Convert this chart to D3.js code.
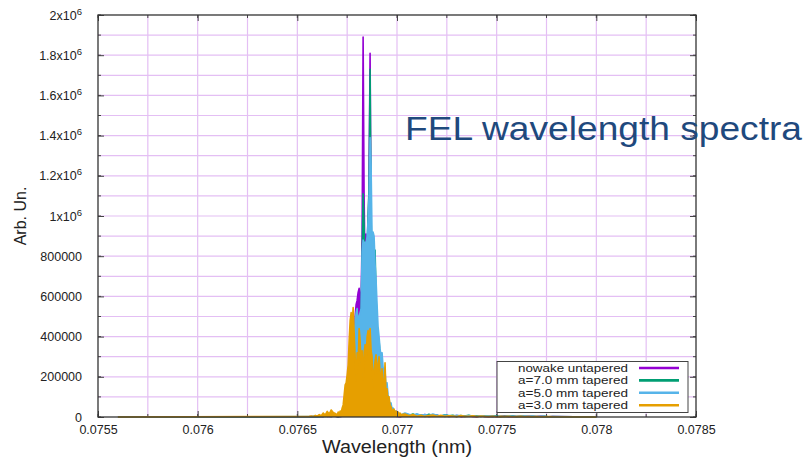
<!DOCTYPE html>
<html>
<head>
<meta charset="utf-8">
<script src="https://cdn.jsdelivr.net/npm/d3@7"></script>
<style>
  html, body { margin: 0; padding: 0; background: #fff; }
  svg { display: block; }
  text { font-family: "Liberation Sans", Arial, sans-serif; }
</style>
</head>
<body>
<svg id="chart" width="805" height="461"></svg>
<script>
// ---- Series meta ----
const seriesNames = ["nowake untapered", "a=7.0 mm tapered", "a=5.0 mm tapered", "a=3.0 mm tapered"];
const seriesColors = ["#9400d3", "#009e73", "#56b4e9", "#e69f00"];

// ---- Axis ticks ----
const xTicks = [0.0755, 0.076, 0.0765, 0.077, 0.0775, 0.078, 0.0785];
const xTickLabels = ["0.0755", "0.076", "0.0765", "0.077", "0.0775", "0.078", "0.0785"];
const yTicks = [0, 200000, 400000, 600000, 800000, 1000000, 1200000, 1400000, 1600000, 1800000, 2000000];
const yTickLabels = ["0", "200000", "400000", "600000", "800000", "1x10^6", "1.2x10^6", "1.4x10^6", "1.6x10^6", "1.8x10^6", "2x10^6"];

// ---- Sampling grids (nm) ----
const bandStart = 0.0756, bandEnd = 0.0780;          // recorded band, zero signal at the ends
const leftTailStart = 0.07656, leftTailStep = 0.00001;
const coreStart = 0.07670, coreStep = 0.000005;
const rightTailStart = 0.07704, rightTailStep = 0.00002;

// ---- Spectra, in units of 10^3 (Arb. Un.) ----
// nowake untapered
const nowakeLeft = [1, 2, 1, 3, 2, 4, 3, 2, 5, 3, 4, 3, 5, 4];
const nowakeCore = [2, 3, 2, 4, 3, 5, 6, 8, 10, 15, 20, 30, 45, 60, 80, 120,
  300, 400, 500, 560, 580, 620, 640, 600, 580, 900, 1890, 1100, 700, 910, 780, 850,
  1200, 1810, 900, 650, 500, 420, 350, 280, 220, 180, 150, 120, 90, 70, 55, 40,
  30, 25, 20, 15, 12, 10, 8, 6, 5, 5, 4, 4, 3, 3, 2, 2, 2];
const nowakeRight = [8, 5, 10, 4, 6, 12, 3, 5, 8, 4, 6, 3, 5, 7, 2, 4, 6, 3, 2,
  5, 3, 2, 4, 2, 3, 5, 2, 3, 2, 4, 2, 3, 2, 2, 3, 2, 1, 2];

// a=7.0 mm tapered
const tap7Left = [1, 1, 2, 2, 3, 2, 4, 3, 3, 5, 4, 3, 4, 5];
const tap7Core = [2, 2, 3, 3, 4, 5, 6, 8, 10, 14, 18, 25, 35, 50, 70, 100,
  150, 210, 280, 350, 380, 400, 450, 470, 500, 800, 1110, 950, 700, 760, 820, 1000,
  1150, 1730, 1000, 700, 760, 820, 830, 600, 450, 350, 380, 300, 250, 200, 160, 120,
  90, 70, 50, 40, 30, 25, 20, 15, 12, 10, 8, 8, 6, 6, 5, 5, 4];
const tap7Right = [12, 8, 15, 6, 10, 5, 14, 7, 9, 4, 11, 6, 8, 3, 7, 5, 9, 4, 6,
  3, 5, 4, 3, 6, 2, 4, 3, 5, 2, 3, 4, 2, 3, 2, 2, 3, 1, 2];

// a=5.0 mm tapered
const tap5Left = [2, 1, 3, 2, 2, 4, 3, 5, 4, 3, 6, 4, 5, 6];
const tap5Core = [3, 4, 4, 5, 6, 8, 10, 14, 18, 24, 30, 40, 55, 75, 100, 140,
  250, 380, 480, 520, 540, 470, 500, 520, 540, 820, 880, 860, 870, 860, 900, 980,
  1100, 1390, 1250, 880, 920, 900, 760, 680, 560, 450, 400, 340, 300, 320, 250, 210,
  230, 150, 170, 110, 90, 60, 70, 40, 45, 30, 25, 30, 20, 15, 18, 12, 10];
const tap5Right = [20, 14, 9, 16, 8, 12, 6, 15, 9, 5, 10, 7, 4, 8, 6, 3, 7, 5, 4,
  6, 3, 5, 2, 4, 3, 2, 4, 3, 2, 3, 2, 2, 3, 1, 2, 2, 1, 1];

// a=3.0 mm tapered
const tap3Left = [3, 5, 2, 8, 4, 12, 6, 20, 10, 28, 15, 35, 22, 18];
const tap3Core = [10, 25, 15, 30, 20, 45, 60, 110, 160, 170, 210, 260, 380, 480, 520, 460,
  545, 420, 300, 180, 320, 260, 440, 380, 240, 330, 180, 320, 360, 280, 400, 430,
  380, 440, 330, 300, 150, 230, 280, 310, 220, 260, 300, 220, 180, 240, 160, 150,
  270, 110, 140, 80, 100, 60, 50, 35, 25, 40, 20, 30, 18, 25, 15, 20, 12];
const tap3Right = [15, 6, 12, 4, 9, 3, 7, 10, 4, 8, 3, 6, 5, 2, 7, 3, 4, 6, 2,
  5, 3, 2, 4, 1, 3, 2, 3, 1, 2, 3, 1, 2, 1, 2, 1, 1, 2, 1];

const seriesParts = [
  [nowakeLeft, nowakeCore, nowakeRight],
  [tap7Left, tap7Core, tap7Right],
  [tap5Left, tap5Core, tap5Right],
  [tap3Left, tap3Core, tap3Right]
];

// Assemble (wavelength, value) pairs on the sampling grids
function buildSpectrum([left, core, right]) {
  const pts = [[bandStart, 0]];
  left.forEach((v, i) => pts.push([leftTailStart + i * leftTailStep, v * 1e3]));
  core.forEach((v, i) => pts.push([coreStart + i * coreStep, v * 1e3]));
  right.forEach((v, i) => pts.push([rightTailStart + i * rightTailStep, v * 1e3]));
  pts.push([bandEnd, 0]);
  return pts;
}
const spectra = seriesParts.map(buildSpectrum);

// ---- Layout ----
const svg = d3.select("#chart");
const plot = { left: 98, right: 696, top: 15, bottom: 417 };
const x = d3.scaleLinear().domain([0.0755, 0.0785]).range([plot.left, plot.right]);
const y = d3.scaleLinear().domain([0, 2000000]).range([plot.bottom, plot.top]);

// Grid: every minor tick on both axes
const gridColor = "#e4bff4";
const xMinor = d3.range(0, 13).map(i => 0.0755 + i * 0.00025);
const yMinor = d3.range(0, 21).map(i => i * 100000);
const grid = svg.append("g");
grid.selectAll("line.gx").data(xMinor.slice(1, -1)).join("line")
  .attr("x1", d => x(d)).attr("x2", d => x(d))
  .attr("y1", plot.top).attr("y2", plot.bottom)
  .attr("stroke", gridColor).attr("stroke-width", 1.2);
grid.selectAll("line.gy").data(yMinor.slice(1, -1)).join("line")
  .attr("x1", plot.left).attr("x2", plot.right)
  .attr("y1", d => y(d)).attr("y2", d => y(d))
  .attr("stroke", gridColor).attr("stroke-width", 1.2);

// Minor tick marks (inward, all four sides)
const tickColor = "#444";
const mt = svg.append("g").attr("stroke", tickColor).attr("stroke-width", 1);
xMinor.forEach(v => {
  mt.append("line").attr("x1", x(v)).attr("x2", x(v)).attr("y1", plot.bottom).attr("y2", plot.bottom - 3);
  mt.append("line").attr("x1", x(v)).attr("x2", x(v)).attr("y1", plot.top).attr("y2", plot.top + 3);
});
yMinor.forEach(v => {
  mt.append("line").attr("x1", plot.left).attr("x2", plot.left + 3).attr("y1", y(v)).attr("y2", y(v));
  mt.append("line").attr("x1", plot.right).attr("x2", plot.right - 3).attr("y1", y(v)).attr("y2", y(v));
});

// Spectra: filled under each trace, drawn in legend order
const area = d3.area().x(d => x(d[0])).y0(y(0)).y1(d => y(d[1]));
const line = d3.line().x(d => x(d[0])).y(d => y(d[1]));
const traces = svg.append("g");
spectra.forEach((pts, i) => {
  traces.append("path").datum(pts).attr("d", area)
    .attr("fill", seriesColors[i]).attr("stroke", "none");
  traces.append("path").datum(pts).attr("d", line)
    .attr("fill", "none").attr("stroke", seriesColors[i])
    .attr("stroke-width", 1.6).attr("stroke-linejoin", "round");
});

// Axes
const fontSize = 12.5;
const xAxis = d3.axisBottom(x).tickValues(xTicks)
  .tickFormat((d, i) => xTickLabels[i]).tickSizeInner(-6).tickSizeOuter(0).tickPadding(8);
const gx = svg.append("g").attr("transform", `translate(0,${plot.bottom})`).call(xAxis);
gx.select(".domain").remove();
gx.selectAll(".tick line").attr("stroke", tickColor);
gx.selectAll(".tick text").attr("font-size", fontSize).attr("fill", "#222")
  .attr("font-family", "Liberation Sans, Arial, sans-serif");

const xTop = d3.axisTop(x).tickValues(xTicks).tickFormat("").tickSizeInner(-6).tickSizeOuter(0);
const gxt = svg.append("g").attr("transform", `translate(0,${plot.top})`).call(xTop);
gxt.select(".domain").remove();
gxt.selectAll(".tick line").attr("stroke", tickColor);

const yAxis = d3.axisLeft(y).tickValues(yTicks)
  .tickFormat((d, i) => yTickLabels[i]).tickSizeInner(-6).tickSizeOuter(0).tickPadding(16);
const gy = svg.append("g").attr("transform", `translate(${plot.left},0)`).call(yAxis);
gy.select(".domain").remove();
gy.selectAll(".tick line").attr("stroke", tickColor);
gy.selectAll(".tick text").attr("font-size", fontSize).attr("fill", "#222")
  .attr("font-family", "Liberation Sans, Arial, sans-serif")
  .each(function(d, i) {
    const label = yTickLabels[i];
    if (label.includes("^")) {
      const [base, exp] = label.split("^");
      const t = d3.select(this).text(null);
      t.append("tspan").text(base);
      t.append("tspan").text(exp).attr("font-size", 9.5).attr("dy", "-5");
    }
  });

const yRight = d3.axisRight(y).tickValues(yTicks).tickFormat("").tickSizeInner(-6).tickSizeOuter(0);
const gyr = svg.append("g").attr("transform", `translate(${plot.right},0)`).call(yRight);
gyr.select(".domain").remove();
gyr.selectAll(".tick line").attr("stroke", tickColor);

// Frame
svg.append("rect")
  .attr("x", plot.left).attr("y", plot.top)
  .attr("width", plot.right - plot.left).attr("height", plot.bottom - plot.top)
  .attr("fill", "none").attr("stroke", "#333").attr("stroke-width", 1.3);

// Axis titles
svg.append("text")
  .attr("x", (plot.left + plot.right) / 2).attr("y", 453)
  .attr("text-anchor", "middle").attr("font-size", 17.5).attr("fill", "#222")
  .attr("textLength", 150).attr("lengthAdjust", "spacingAndGlyphs")
  .text("Wavelength (nm)");
svg.append("text")
  .attr("transform", `translate(26,${(plot.top + plot.bottom) / 2}) rotate(-90)`)
  .attr("text-anchor", "middle").attr("font-size", 16).attr("fill", "#222")
  .text("Arb. Un.");

// Legend
const legendRow = 12.4;
const legend = svg.append("g");
legend.append("rect")
  .attr("x", 497).attr("y", 361.5).attr("width", 191).attr("height", 51)
  .attr("fill", "#fff").attr("stroke", "#444").attr("stroke-width", 1);
seriesNames.forEach((name, i) => {
  const cy = 368 + i * legendRow;
  legend.append("text")
    .attr("x", 628).attr("y", cy + 4)
    .attr("text-anchor", "end").attr("font-size", 10.8).attr("fill", "#222")
    .attr("textLength", 110).attr("lengthAdjust", "spacingAndGlyphs")
    .text(name);
  legend.append("line")
    .attr("x1", 639).attr("x2", 679).attr("y1", cy).attr("y2", cy)
    .attr("stroke", seriesColors[i]).attr("stroke-width", 2.6);
});

// Slide heading
svg.append("text")
  .attr("x", 405).attr("y", 140)
  .attr("font-family", "Open Sans, Noto Sans, sans-serif")
  .attr("font-size", 34).attr("fill", "#1f497d")
  .attr("textLength", 397).attr("lengthAdjust", "spacingAndGlyphs")
  .text("FEL wavelength spectra");
</script>
</body>
</html>
